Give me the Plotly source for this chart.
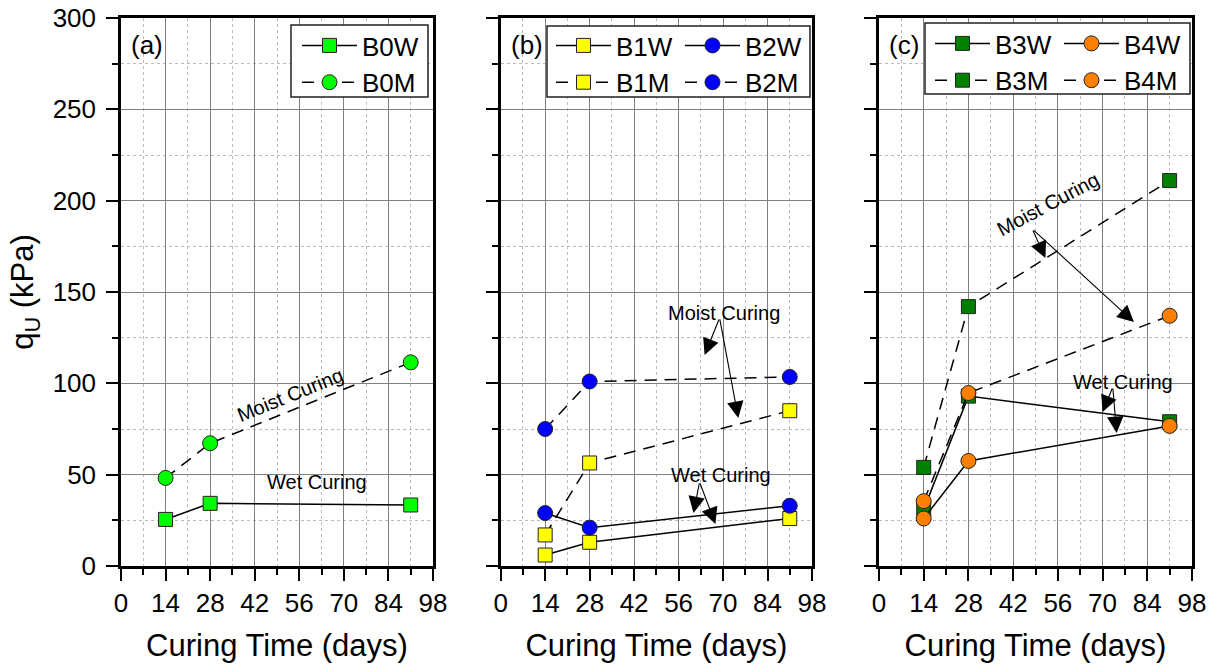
import plotly.graph_objects as go

days = [14, 28, 91]
B0W = [25.5, 34.3, 33.4]
B0M = [48.2, 67.2, 111.5]
B1W = [6, 13, 26]
B1M = [17, 56.4, 85]
B2W = [29, 21, 33]
B2M = [75, 101, 103.5]
B3W = [31, 93, 79]
B3M = [54, 142, 211]
B4W = [26, 57.5, 76.7]
B4M = [35.5, 94.7, 137]

x_ticks = [0, 14, 28, 42, 56, 70, 84, 98]
y_ticks = [0, 50, 100, 150, 200, 250, 300]

W, H = 1211, 668
L, R, T, B = 121, 1192, 18, 566   # plot area in page pixels
PW, PH = R - L, B - T
FONT = "Liberation Sans, Arial, sans-serif"

def px(x):
    return (x - L) / PW

def py(y):
    return (B - y) / PH

fig = go.Figure()

def add(name, ys, color, symbol, dashed, xa, ya, legend):
    fig.add_trace(go.Scatter(
        x=days, y=ys, name=name, mode="lines+markers",
        line=dict(color="black", width=1.5, dash="12px,8px" if dashed else "solid"),
        marker=dict(symbol=symbol, size=14 if symbol == "square" else 15, color=color,
                    line=dict(color="#222", width=1)),
        xaxis=xa, yaxis=ya, legend=legend))

add("B0W", B0W, "#00FF00", "square", False, "x", "y", "legend")
add("B0M", B0M, "#00FF00", "circle", True, "x", "y", "legend")
add("B1W", B1W, "#FFFF00", "square", False, "x2", "y2", "legend2")
add("B1M", B1M, "#FFFF00", "square", True, "x2", "y2", "legend2")
add("B2W", B2W, "#0000FF", "circle", False, "x2", "y2", "legend3")
add("B2M", B2M, "#0000FF", "circle", True, "x2", "y2", "legend3")
add("B3W", B3W, "#008000", "square", False, "x3", "y3", "legend4")
add("B3M", B3M, "#008000", "square", True, "x3", "y3", "legend4")
add("B4W", B4W, "#FF8000", "circle", False, "x3", "y3", "legend5")
add("B4M", B4M, "#FF8000", "circle", True, "x3", "y3", "legend5")

doms = [[0, px(433)], [px(500.7), px(812)], [px(879), 1]]

def xaxis(i):
    return dict(domain=doms[i], range=[0, 98], tickvals=x_ticks, ticktext=[str(v) for v in x_ticks],
                ticks="outside", ticklen=12, tickwidth=2, tickcolor="black",
                showline=True, linewidth=2.5, linecolor="black", mirror=True,
                showgrid=True, gridcolor="#808080", gridwidth=1, zeroline=False,
                minor=dict(dtick=7, tick0=0, ticks="outside", ticklen=6, tickwidth=2, tickcolor="black",
                           showgrid=True, gridcolor="#bbbbbb", griddash="dot", gridwidth=1),
                tickfont=dict(size=26, color="black", family=FONT), ticklabeloverflow="allow",
                title=dict(text="Curing Time (days)", font=dict(size=31, color="black", family=FONT), standoff=18),
                automargin=False, anchor=["y", "y2", "y3"][i])

def yaxis(i):
    d = dict(domain=[0, 1], range=[0, 300], tickvals=y_ticks,
             ticks="outside", ticklen=12, tickwidth=2, tickcolor="black",
             showline=True, linewidth=2.5, linecolor="black", mirror=True,
             showgrid=True, gridcolor="#808080", gridwidth=1, zeroline=False,
             showticklabels=(i == 0), ticklabelstandoff=5, ticklabeloverflow="allow",
             minor=dict(dtick=25, tick0=0, ticks="outside", ticklen=6, tickwidth=2, tickcolor="black",
                        showgrid=True, gridcolor="#bbbbbb", griddash="dot", gridwidth=1),
             tickfont=dict(size=26, color="black", family=FONT),
             automargin=False, anchor=["x", "x2", "x3"][i])
    if i == 0:
        d["title"] = dict(text="q<sub>U</sub> (kPa)", font=dict(size=31, color="black", family=FONT), standoff=10)
    return d

def leg(x, y):
    return dict(x=px(x), y=py(y), xanchor="left", yanchor="top", bgcolor="rgba(0,0,0,0)",
                borderwidth=0, font=dict(size=26, color="black", family=FONT),
                tracegroupgap=0, itemsizing="trace", itemwidth=55)

ann_font = dict(size=20, color="black", family=FONT)
lab_font = dict(size=26, color="black", family=FONT)

annotations = [
    dict(text="(a)", x=2.5, y=285, xref="x", yref="y", xanchor="left", showarrow=False, font=lab_font),
    dict(text="(b)", x=2.5, y=285, xref="x2", yref="y2", xanchor="left", showarrow=False, font=lab_font),
    dict(text="(c)", x=2.5, y=285, xref="x3", yref="y3", xanchor="left", showarrow=False, font=lab_font),
    dict(text="Moist Curing", x=53, y=93.6, xref="x", yref="y", textangle=-22, showarrow=False, font=ann_font),
    dict(text="Wet Curing", x=61.6, y=46, xref="x", yref="y", showarrow=False, font=ann_font),
    dict(text="Moist Curing", x=70.4, y=138.5, xref="x2", yref="y2", showarrow=False, font=ann_font),
    dict(text="Wet Curing", x=69.5, y=49.8, xref="x2", yref="y2", showarrow=False, font=ann_font),
    dict(text="Moist Curing", x=53, y=198, xref="x3", yref="y3", textangle=-28, showarrow=False, font=ann_font),
    dict(text="Wet Curing", x=76.3, y=100.7, xref="x3", yref="y3", showarrow=False, font=ann_font),
]

arrows = [
    ("x2", "y2", 68.9, 135.8, 64.2, 115.5),
    ("x2", "y2", 68.9, 135.8, 74.8, 81),
    ("x2", "y2", 62.6, 46, 60.7, 29),
    ("x2", "y2", 62.6, 46, 67.6, 23),
    ("x3", "y3", 48, 184.5, 52.1, 168.6),
    ("x3", "y3", 48, 184.5, 79.8, 133.6),
    ("x3", "y3", 73.2, 98, 70, 84.3),
    ("x3", "y3", 73.2, 98, 74.4, 72.8),
]
for xr, yr, x0, y0, x1, y1 in arrows:
    annotations.append(dict(text="", x=x1, y=y1, ax=x0, ay=y0, xref=xr, yref=yr, axref=xr, ayref=yr,
                            showarrow=True, arrowhead=2, arrowsize=3, arrowwidth=1.1,
                            arrowcolor="black", standoff=0, startstandoff=0))

def box(x0, x1, y0, y1):
    return dict(type="rect", xref="paper", yref="paper", x0=px(x0), x1=px(x1), y0=py(y1), y1=py(y0),
                line=dict(color="#222", width=1.5), fillcolor="white", layer="above")

shapes = [box(291, 428, 25, 97), box(547, 810, 26, 97), box(925, 1190, 23, 94)]

fig.update_layout(
    width=W, height=H,
    margin=dict(l=L, r=W - R, t=T, b=H - B, autoexpand=False),
    paper_bgcolor="white", plot_bgcolor="white",
    font=dict(family=FONT, color="black"),
    xaxis=xaxis(0), xaxis2=xaxis(1), xaxis3=xaxis(2),
    yaxis=yaxis(0), yaxis2=yaxis(1), yaxis3=yaxis(2),
    legend=leg(297, 22), legend2=leg(551, 22), legend3=leg(680, 22),
    legend4=leg(930, 20), legend5=leg(1059, 20),
    annotations=annotations, shapes=shapes,
)

fig.write_html("out.html", config={"displayModeBar": False},
               post_script="document.body.style.margin='0';document.body.style.overflow='hidden';")
